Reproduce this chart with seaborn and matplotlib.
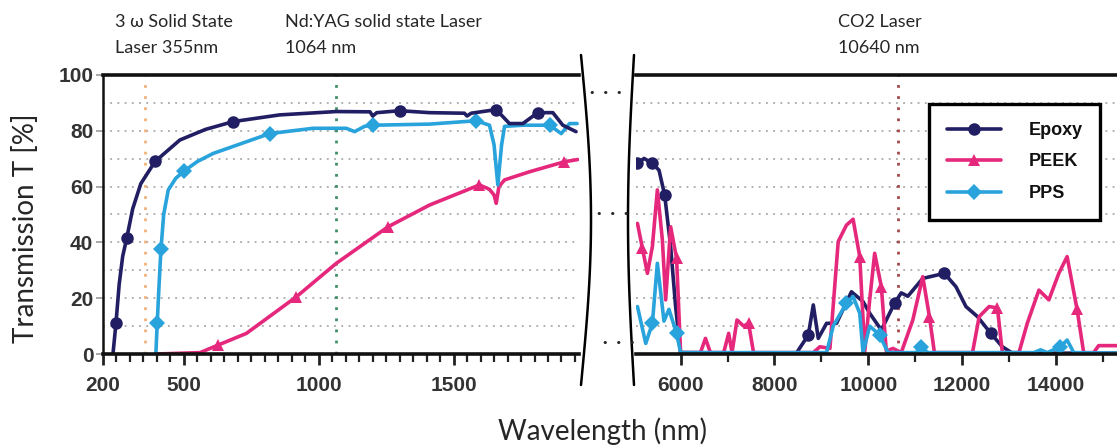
import numpy as np
import pandas as pd
import matplotlib
matplotlib.use('Agg')
import matplotlib.pyplot as plt
import seaborn as sns
from matplotlib.lines import Line2D
from matplotlib.ticker import MultipleLocator

# ---- data ----
# short wavelength part (nm)
epoxy_nm_a = [237, 248, 260, 273, 288, 310, 340, 393, 485, 580, 683, 855, 1065, 1190, 1200, 1215,
              1300, 1411, 1540, 1550, 1565, 1658, 1707, 1757, 1812, 1868, 1905, 1954]
epoxy_t_a = [0, 11, 25, 35, 41.5, 52, 61, 69, 76.7, 80.5, 83.3, 85.7, 86.9, 86.8, 85.3, 86.5,
             87.2, 86.5, 86.3, 85.3, 86.3, 87.6, 82.6, 82.6, 86.5, 86.5, 82, 79.7]
epoxy_mk_a = [1, 4, 7, 10, 16, 21, 24]

peek_nm_a = [400, 560, 627, 732, 917, 1065, 1257, 1411, 1596, 1633, 1650, 1658, 1668, 1689, 1781, 1911, 1960]
peek_t_a = [0, 0.5, 3.2, 7.4, 20.5, 32.5, 45.6, 53.4, 60.6, 59, 57, 54, 60, 62.4, 65.3, 68.9, 69.7]
peek_mk_a = [2, 4, 6, 8, 15]

pps_nm_a = [396, 401, 408, 415, 425, 442, 470, 501, 550, 609, 818, 979, 1102, 1133, 1170, 1201,
            1411, 1584, 1633, 1650, 1664, 1678, 1689, 1757, 1856, 1899, 1930, 1958]
pps_t_a = [0, 11, 25, 37.6, 50, 58.8, 63, 65.6, 69, 71.9, 79, 80.9, 80.9, 79.7, 81.6, 82,
           82.4, 83.6, 82, 75, 60.6, 75, 81.6, 82, 82, 79, 82.6, 82.6]
pps_mk_a = [1, 3, 7, 10, 15, 17, 24]

# long wavelength part (nm)
epoxy_nm_b = [5081, 5222, 5399, 5540, 5661, 5788, 5894, 6000, 8400, 8475, 8722, 8828, 8934, 9111,
              9323, 9641, 9888, 10030, 10278, 10560, 10702, 10843, 11161, 11621, 11869, 12081,
              12327, 12610, 12857, 13070, 15300]
epoxy_t_b = [68.3, 70.1, 68.3, 65.9, 57, 38.5, 17, 0.5, 0.3, 0.5, 6.8, 17.6, 5.6, 11,
             11, 22.3, 18.8, 14.6, 8.6, 18.2, 21.9, 20.7, 27.1, 28.9, 24.1, 17,
             13.4, 7.4, 2.6, 0.3, 0.3]
epoxy_mk_b = [0, 2, 4, 10, 19, 23, 27]

peek_nm_b = [5081, 5187, 5293, 5399, 5505, 5612, 5682, 5788, 5915, 6000, 6424, 6530, 6636, 6919,
             7025, 7096, 7202, 7343, 7449, 7555, 8828, 8969, 9182, 9359, 9535, 9676, 9818, 9924,
             10030, 10136, 10278, 10384, 10525, 10702, 10949, 11161, 11303, 11409, 12221, 12363,
             12575, 12752, 12857, 13211, 13388, 13636, 13848, 14060, 14237, 14449, 14590, 14803,
             14909, 15300]
peek_t_b = [46.8, 37.9, 28.9, 38.5, 58.8, 40.9, 19.4, 45.6, 34.3, 0.5, 0.5, 5.6, 0.5, 0.5,
            7.4, 0.5, 12.2, 10, 11, 0.5, 0.5, 2.6, 2, 40.3, 46.2, 48.3, 34.9, 0.9,
            19.4, 36.1, 24.1, 1, 2, 0.5, 12.2, 27.7, 13.4, 0.5, 0.5, 13.4,
            17, 16.5, 0.5, 0.5, 11, 22.9, 19.4, 28.9, 34.9, 16, 0.5, 0.5,
            3, 3]
peek_mk_b = [1, 8, 18, 26, 30, 36, 41, 49]

pps_nm_b = [5081, 5258, 5399, 5505, 5646, 5752, 5915, 6000, 9111, 9252, 9535, 9676, 9818, 9888,
            10030, 10242, 10419, 11019, 11126, 11267, 13530, 13671, 13813, 14095, 14237, 14378, 15300]
pps_t_b = [17, 3.8, 11, 32.5, 11.8, 16, 7.4, 0.5, 0.5, 10, 18.2, 20.6, 14.6, 0.5,
           10, 6.8, 0.5, 0.5, 2.6, 0.5, 0.5, 1.5, 0.5, 2.6, 5, 0.5, 0.3]
pps_mk_b = [2, 6, 10, 15, 18, 23]

laser_nm = [355, 1064, 10640]
laser_colors = ['#f2b27a', '#3f8f66', '#a5484a']
y_ticks = [0, 20, 40, 60, 80, 100]
x_ticks_a = [200, 500, 1000, 1500]
x_ticks_b = [6000, 8000, 10000, 12000, 14000]

c_epoxy, c_peek, c_pps = '#221e63', '#e5287c', '#28a3dc'

sns.set_style('white')
plt.rcParams['font.family'] = ['Lato', 'DejaVu Sans']
tick_font = ['Liberation Sans Narrow', 'Liberation Sans', 'DejaVu Sans']

W, H = 1117, 446
fig = plt.figure(figsize=(W / 100, H / 100), dpi=100)


def px(x0, y0, x1, y1):
    return [x0 / W, 1 - y1 / H, (x1 - x0) / W, (y1 - y0) / H]


ax1 = fig.add_axes(px(103, 75, 579, 354))
ax2 = fig.add_axes(px(636, 75, 1117, 354))


def draw(ax, nm, t, mk, color, marker, ms, label=None):
    df = pd.DataFrame({'nm': nm, 'T': t})
    sns.lineplot(data=df, x='nm', y='T', ax=ax, color=color, lw=2.6, marker=marker,
                 markersize=ms, markevery=mk, markeredgewidth=0, label=label, legend=False)


draw(ax1, peek_nm_a, peek_t_a, peek_mk_a, c_peek, '^', 9)
draw(ax1, pps_nm_a, pps_t_a, pps_mk_a, c_pps, 'D', 8)
draw(ax1, epoxy_nm_a, epoxy_t_a, epoxy_mk_a, c_epoxy, 'o', 9)
draw(ax2, epoxy_nm_b, epoxy_t_b, epoxy_mk_b, c_epoxy, 'o', 9, 'Epoxy')
draw(ax2, peek_nm_b, peek_t_b, peek_mk_b, c_peek, '^', 9, 'PEEK')
draw(ax2, pps_nm_b, pps_t_b, pps_mk_b, c_pps, 'D', 8, 'PPS')

for ax in (ax1, ax2):
    ax.set_ylim(0, 100)
    ax.set_xlabel('')
    ax.set_ylabel('')
    ax.yaxis.set_minor_locator(MultipleLocator(10))
    ax.set_yticks(y_ticks)
    ax.grid(axis='y', which='both', ls=(0, (1, 3)), color='#a8a8a8', lw=1.3)
    ax.grid(axis='x', visible=False)
    for s in ('top', 'bottom'):
        ax.spines[s].set_linewidth(2.6)
        ax.spines[s].set_color('#111111')
    ax.spines['right'].set_visible(False)
    ax.tick_params(axis='x', which='major', direction='out', length=8, width=2,
                   color='#222222', pad=8, labelsize=15, labelcolor='#333333', bottom=True)
    ax.tick_params(axis='x', which='minor', direction='out', length=6, width=1.6,
                   color='#222222', bottom=True)
    ax.tick_params(axis='y', which='minor', length=0)
    ax.set_axisbelow(True)

ax1.set_xlim(200, 1965)
ax1.set_xticks(x_ticks_a)
ax1.xaxis.set_minor_locator(MultipleLocator(50))
ax1.spines['left'].set_linewidth(1.8)
ax1.spines['left'].set_color('#111111')
ax1.tick_params(axis='y', which='major', direction='out', length=5, width=1.2,
                color='#999999', pad=2, labelsize=15, labelcolor='#333333', left=True)
for lab in ax1.get_xticklabels() + ax1.get_yticklabels():
    lab.set_family(tick_font)
    lab.set_weight('bold')

ax2.set_xlim(5050, 15300)
ax2.set_xticks(x_ticks_b)
ax2.xaxis.set_minor_locator(MultipleLocator(1000))
ax2.spines['left'].set_visible(False)
ax2.tick_params(axis='y', which='both', left=False, labelleft=False)
for lab in ax2.get_xticklabels():
    lab.set_family(tick_font)
    lab.set_weight('bold')

# laser wavelength markers
for wl, col in zip(laser_nm, laser_colors):
    ax = ax1 if wl < 2000 else ax2
    ax.axvline(wl, color=col, ls=(0, (1, 3)), lw=2, zorder=1)

leg = ax2.legend(loc='upper left', bbox_to_anchor=(929 / W, 1 - 104 / H),
                 bbox_transform=fig.transFigure, frameon=True, fancybox=False, borderaxespad=0,
                 handlelength=3.0, handletextpad=1.5, labelspacing=0.8, borderpad=1.0,
                 prop={'family': tick_font, 'size': 13, 'weight': 'bold'})
leg.get_frame().set_edgecolor('black')
leg.get_frame().set_linewidth(2.4)
leg.get_frame().set_alpha(1)
for t in leg.get_texts():
    t.set_color('#111111')

# axis break decoration
yy = np.linspace(55, 385, 80)
s = np.sin(np.pi * (yy - 55) / 330)
fig.add_artist(Line2D((581 + 10 * s) / W, 1 - yy / H, color='black', lw=1.8))
fig.add_artist(Line2D((634 - 6 * s) / W, 1 - yy / H, color='black', lw=1.8))
for xd, yd in [(606, 93), (613, 214), (619, 343)]:
    fig.text(xd / W, 1 - yd / H, '\u2022  \u2022  \u2022', fontsize=8, ha='center', va='center',
             family='DejaVu Sans')

# labels
fig.text(115 / W, 1 - 35 / H, '3 \u03c9 Solid State\nLaser 355nm', fontsize=13,
         ha='left', va='center', linespacing=1.75)
fig.text(285 / W, 1 - 35 / H, 'Nd:YAG solid state Laser\n1064 nm', fontsize=13,
         ha='left', va='center', linespacing=1.75)
fig.text(838 / W, 1 - 35 / H, 'CO2 Laser\n10640 nm', fontsize=13,
         ha='left', va='center', linespacing=1.75)
fig.text(603 / W, 1 - 431 / H, 'Wavelength (nm)', fontsize=20, ha='center', va='center')
fig.text(26 / W, 1 - 228 / H, 'Transmission T [%]', fontsize=20, ha='center', va='center',
         rotation=90)

fig.savefig('out.png', dpi=100)
